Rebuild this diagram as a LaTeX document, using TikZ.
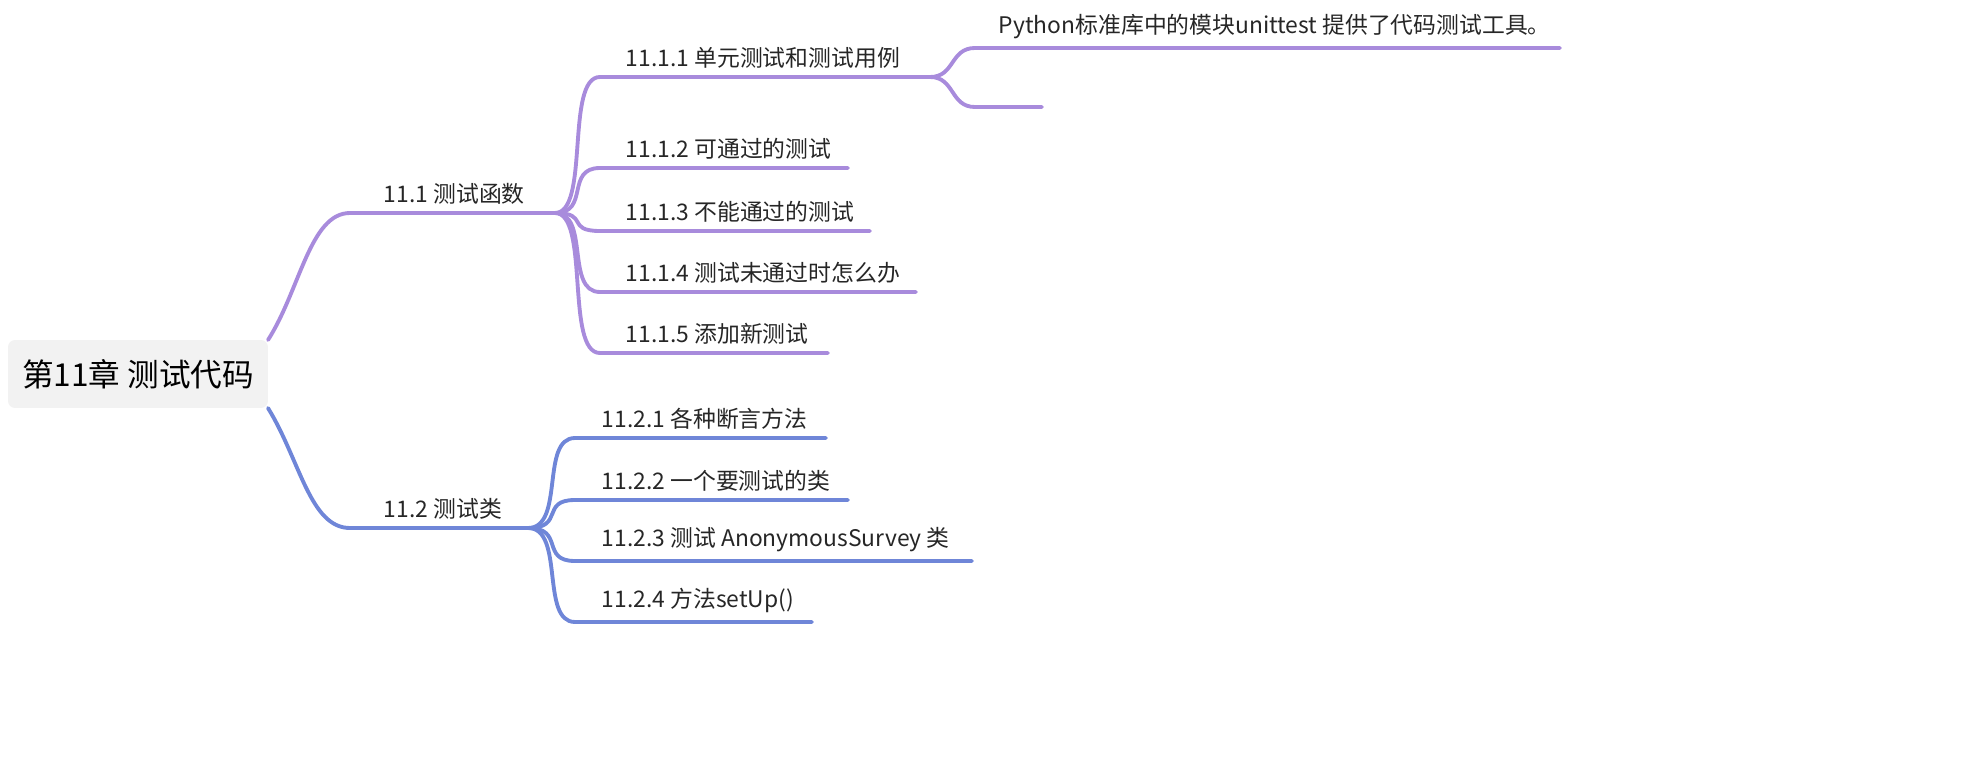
\documentclass[tikz,border=0pt]{standalone}
\usepackage{fontspec}
\setmainfont{Noto Sans CJK SC}
\usetikzlibrary{positioning}
\definecolor{purp}{HTML}{A88BDC}
\definecolor{blu}{HTML}{6F86D8}
\begin{document}
\begin{tikzpicture}[
    x=0.02cm, y=-0.02cm,
    topic/.style={font=\fontsize{13}{15}\selectfont, anchor=south west, inner sep=2pt, text=black!85},
    link/.style={line width=2.2pt, line cap=round, #1},
    link/.default=purp
  ]
  \useasboundingbox (0,0) rectangle (1962,784);
  % root
  \node[fill=black!5, rounded corners=4pt, minimum width=5.2cm, minimum height=1.36cm,
        font=\fontsize{18}{20}\selectfont] (root) at (138,374) {第11章 测试代码};
  % 11.1
  \coordinate (a0) at (600,213);
  \node[topic] (a) at (380,208) {11.1 测试函数};
  \coordinate (aL) at (350,213); \coordinate (aR) at (555,213);
  \draw[link] (268,340) .. controls (300,290) and (310,213) .. (aL) -- (aR);
  \foreach \name/\yy/\xe/\txt in {a1/77/930/{11.1.1 单元测试和测试用例},
      a2/168/848/{11.1.2 可通过的测试}, a3/231/870/{11.1.3 不能通过的测试},
      a4/292/916/{11.1.4 测试未通过时怎么办}, a5/353/828/{11.1.5 添加新测试}} {
    \node[topic] (\name) at (622,\yy-5) {\txt};
    \draw[link] (aR) .. controls (590,213) and (565,\yy) .. (600,\yy) -- (\xe,\yy);
  }
  % leaves of 11.1.1
  \coordinate (a1R) at (930,77);
  \node[topic] (p1) at (995,43) {Python标准库中的模块unittest 提供了代码测试工具。};
  \draw[link] (a1R) .. controls (955,77) and (950,48) .. (975,48) -- (1560,48);
  \draw[link] (a1R) .. controls (955,77) and (950,107) .. (975,107) -- (1042,107);
  % 11.2
  \node[topic] (b) at (380,523) {11.2 测试类};
  \coordinate (bL) at (350,528); \coordinate (bR) at (528,528);
  \draw[link=blu] (268,408) .. controls (300,460) and (310,528) .. (bL) -- (bR);
  \foreach \name/\yy/\xe/\txt in {b1/438/826/{11.2.1 各种断言方法},
      b2/500/848/{11.2.2 一个要测试的类}, b3/561/972/{11.2.3 测试 AnonymousSurvey 类},
      b4/622/812/{11.2.4 方法setUp()}} {
    \node[topic] (\name) at (598,\yy-5) {\txt};
    \draw[link=blu] (bR) .. controls (565,528) and (540,\yy) .. (575,\yy) -- (\xe,\yy);
  }
\end{tikzpicture}
\end{document}
